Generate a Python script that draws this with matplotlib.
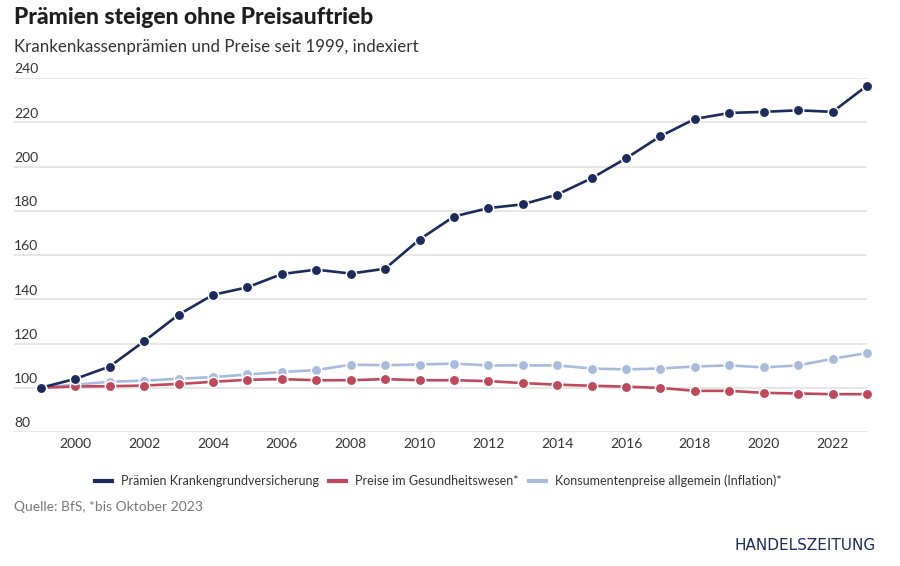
import numpy as np
import matplotlib.pyplot as plt
from matplotlib.lines import Line2D

# Index values (1999 = 100)
years = list(range(1999, 2024))
praemien = [100, 104, 109.6, 121, 133, 142, 145.4, 151.4, 153.4, 151.6, 153.8,
            167, 177.4, 181.2, 182.9, 187.3, 194.7, 203.7, 213.7, 221.5, 224.2,
            224.7, 225.4, 224.7, 236.5]
gesundheit = [100, 100.6, 100.7, 101, 101.7, 102.7, 103.6, 103.9, 103.4, 103.4,
              103.9, 103.4, 103.4, 103, 102.1, 101.4, 100.9, 100.5, 99.9, 98.6,
              98.6, 97.7, 97.4, 97.1, 97.1]
inflation = [100, 101.4, 102.7, 103.2, 104.1, 104.8, 106, 107.1, 108, 110.4,
             110.2, 110.5, 110.9, 110.1, 110.1, 110.1, 108.7, 108.3, 108.7,
             109.6, 110.1, 109.2, 110.1, 113.1, 115.7]
labels = ["Prämien Krankengrundversicherung", "Preise im Gesundheitswesen*",
          "Konsumentenpreise allgemein (Inflation)*"]
colors = ["#1c2a5e", "#c0485b", "#a9bbdd"]
y_ticks = [80, 100, 120, 140, 160, 180, 200, 220, 240]
x_ticks = list(range(2000, 2023, 2))

plt.rcParams['font.family'] = ['Lato', 'DejaVu Sans']

fig = plt.figure(figsize=(9, 5.66), dpi=100)
W, H = 900, 566
# axes box in pixels: left 14, right 867, top 78, bottom 432
ax = fig.add_axes([14 / W, 1 - 432 / H, (867 - 14) / W, (432 - 78) / H])

# series drawn back to front
for vals, col in [(inflation, colors[2]), (gesundheit, colors[1]), (praemien, colors[0])]:
    ax.plot(years, vals, color=col, lw=1.9, marker='o', ms=7.5,
            markeredgecolor='white', markeredgewidth=1.1, clip_on=False, zorder=3)

ax.set_xlim(1998.22, 2023)
ax.set_ylim(80, 240)
ax.set_yticks(y_ticks)
ax.set_xticks(x_ticks)
ax.grid(axis='y', color='#e2e2e2', lw=1.2)
ax.set_axisbelow(True)
for s in ax.spines.values():
    s.set_visible(False)
ax.tick_params(axis='y', length=0, labelleft=False)
ax.tick_params(axis='x', length=0, pad=4, labelsize=10, labelcolor='#333333')

# y labels sit on top of their gridlines, left aligned
for t in y_ticks:
    ax.text(0, t + 1.2, str(t), transform=ax.get_yaxis_transform(),
            ha='left', va='bottom', fontsize=10, color='#333333')

fig.text(14 / W, 1 - 18 / H, "Prämien steigen ohne Preisauftrieb",
         fontsize=16.5, fontweight='black', color='#1e1e1e', va='center')
fig.text(14 / W, 1 - 47 / H, "Krankenkassenprämien und Preise seit 1999, indexiert",
         fontsize=12.2, color='#333333', va='center')

handles = [Line2D([], [], color=c, lw=3) for c in colors]
fig.legend(handles, labels, loc='center', bbox_to_anchor=(438 / W, 1 - 481 / H),
           ncol=3, frameon=False, fontsize=9, handlelength=1.4,
           handletextpad=0.7, columnspacing=0.8, labelcolor='#333333')

fig.text(14 / W, 1 - 507 / H, "Quelle: BfS, *bis Oktober 2023",
         fontsize=10, color='#777777', va='center')
fig.text(876 / W, 1 - 545 / H, "HANDELSZEITUNG", fontsize=11,
         family='DejaVu Sans', color='#1c2a5e', ha='right', va='center')

fig.savefig("out.png", dpi=100)
